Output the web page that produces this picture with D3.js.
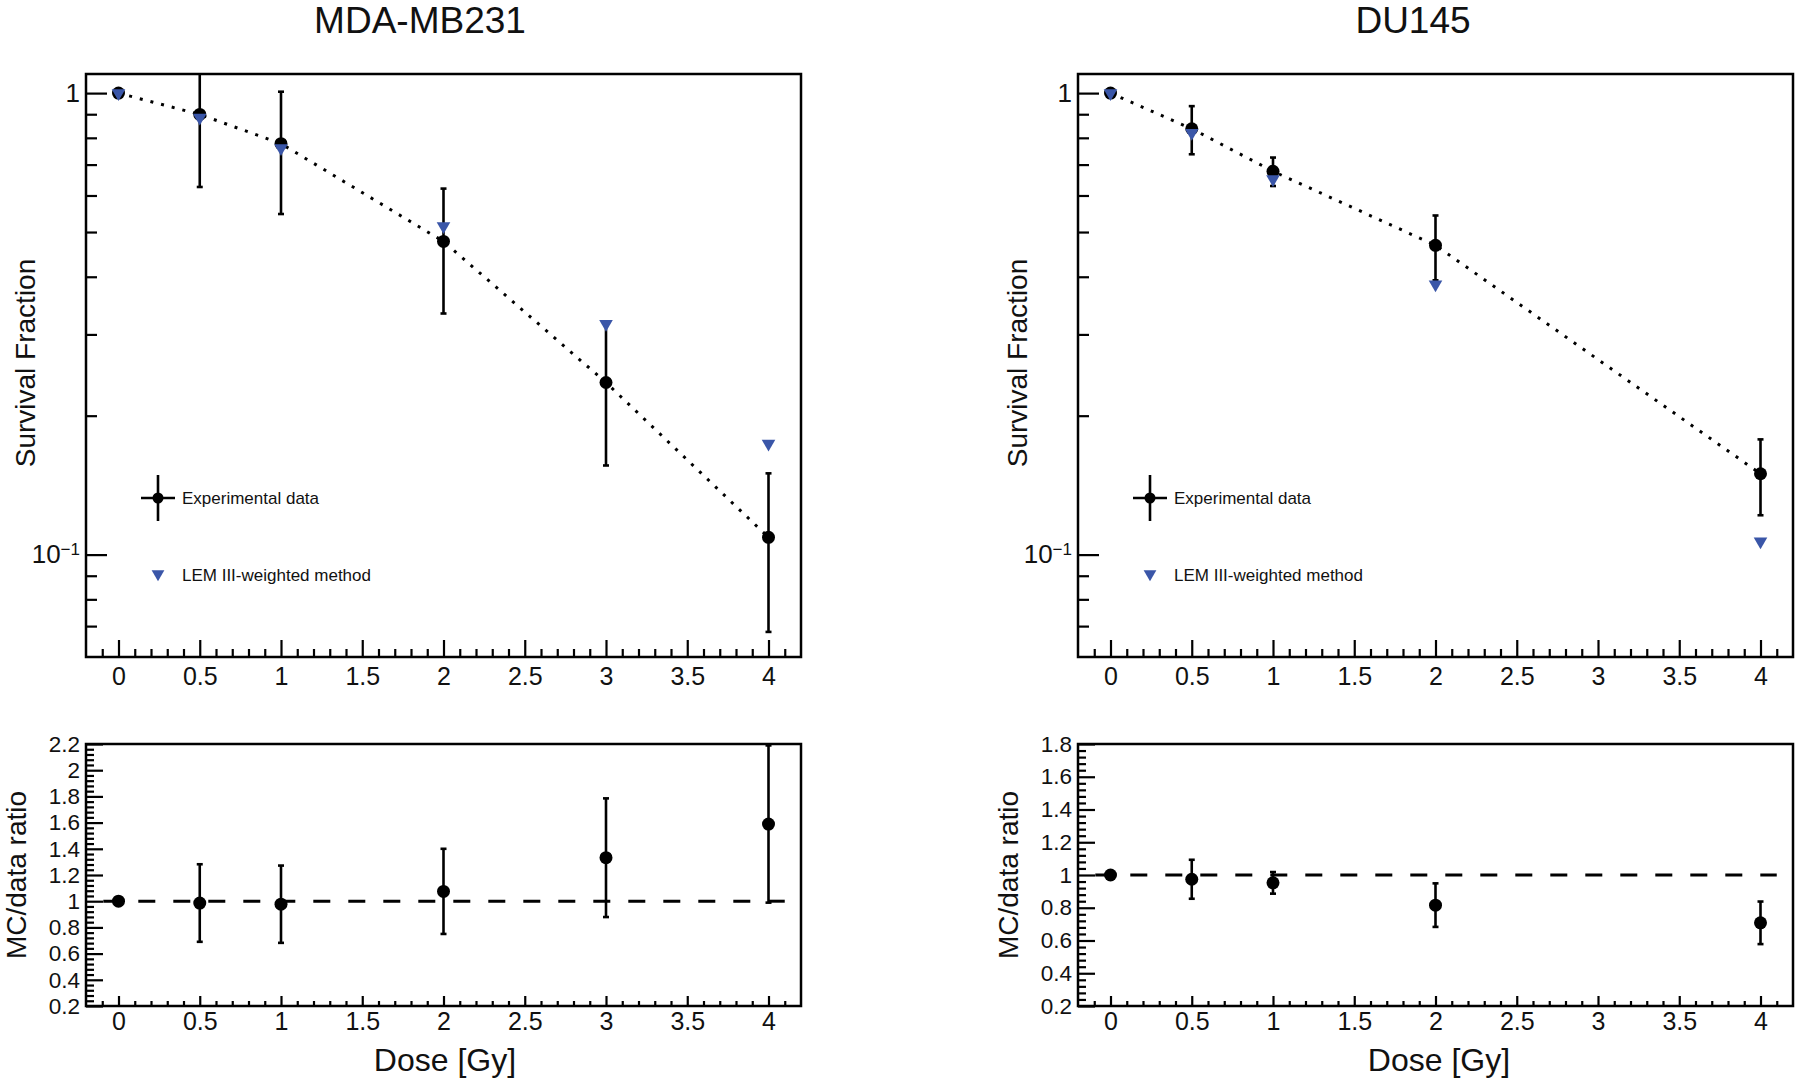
<!DOCTYPE html>
<html><head><meta charset="utf-8">
<script src="https://cdn.jsdelivr.net/npm/d3@7"></script>
<style>
body{margin:0;background:#fff}
svg{display:block}
text{font-family:"Liberation Sans",Arial,Helvetica,sans-serif;fill:#111}
</style>
</head><body>
<svg id="c" width="1800" height="1082"></svg>
<script>
// ---------------- data ----------------
const panelTitles = ["MDA-MB231", "DU145"];

const dosesMDA = [0, 0.5, 1, 2, 3, 4];
const sfMDA    = [1.0, 0.899, 0.777, 0.477, 0.236, 0.109];
const sfErrMDA = [0, 0.273, 0.23, 0.144, 0.08, 0.041];
const lemMDA   = [1.0, 0.885, 0.76, 0.515, 0.316, 0.174];
const ratioMDA    = [1.0, 0.986, 0.977, 1.075, 1.332, 1.589];
const ratioErrMDA = [0, 0.296, 0.295, 0.325, 0.453, 0.6];

const dosesDU = [0, 0.5, 1, 2, 4];
const sfDU    = [1.0, 0.837, 0.677, 0.468, 0.1497];
const sfErrDU = [0, 0.1, 0.048, 0.075, 0.028];
const lemDU   = [1.0, 0.82, 0.651, 0.385, 0.1068];
const ratioDU    = [1.0, 0.974, 0.952, 0.816, 0.708];
const ratioErrDU = [0, 0.119, 0.066, 0.133, 0.13];

const xTickValues = [0, 0.5, 1, 1.5, 2, 2.5, 3, 3.5, 4];
const xTickLabels = ["0", "0.5", "1", "1.5", "2", "2.5", "3", "3.5", "4"];
const sfTickValues = [0.1, 1];
const sfTickLabels = ["10", "1"];
const ratioTicksMDA = [0.2, 0.4, 0.6, 0.8, 1, 1.2, 1.4, 1.6, 1.8, 2, 2.2];
const ratioLabelsMDA = ["0.2", "0.4", "0.6", "0.8", "1", "1.2", "1.4", "1.6", "1.8", "2", "2.2"];
const ratioTicksDU = [0.2, 0.4, 0.6, 0.8, 1, 1.2, 1.4, 1.6, 1.8];
const ratioLabelsDU = ["0.2", "0.4", "0.6", "0.8", "1", "1.2", "1.4", "1.6", "1.8"];

const legendLabels = ["Experimental data", "LEM III-weighted method"];
const yTitleTop = "Survival Fraction";
const yTitleRatio = "MC/data ratio";
const xTitle = "Dose [Gy]";

// ---------------- layout ----------------
const xDomain = [-0.2, 4.2];
const sfDomain = [0.06, 1.1];
const TOP = {top: 74, bottom: 657};
const RAT = {top: 744, bottom: 1006};
const BLUE = "#3a56a8";
const svg = d3.select("#c");

const xMinor = d3.range(-1, 42).map(d => d / 10).filter(d => Math.abs(d * 2 - Math.round(d * 2)) > 1e-6);
const sfMinor = [0.07, 0.08, 0.09, 0.2, 0.3, 0.4, 0.5, 0.6, 0.7, 0.8, 0.9];

function styleAxis(sel) {
  sel.select(".domain").remove();
  sel.selectAll(".tick line").attr("stroke", "#000").attr("stroke-width", 2.2);
  sel.selectAll(".tick text").attr("fill", "#111").style("font-size", "25px")
     .style("font-family", '"Liberation Sans",Arial,sans-serif');
}
function noText(sel) { sel.selectAll("text").remove(); }

let clipN = 0;
function clip(l, r, t, b) {
  const id = "clip" + (clipN++);
  svg.append("clipPath").attr("id", id).append("rect")
    .attr("x", l).attr("y", t).attr("width", r - l).attr("height", b - t);
  return "url(#" + id + ")";
}

function errorBars(g, x, y, xs, vs, es, capW) {
  xs.forEach((d, i) => {
    if (!(es[i] > 0)) return;
    const lo = y(vs[i] - es[i]), hi = y(vs[i] + es[i]);
    g.append("line").attr("x1", x(d)).attr("x2", x(d)).attr("y1", lo).attr("y2", hi)
      .attr("stroke", "#000").attr("stroke-width", 2.6);
    [lo, hi].forEach(yy => g.append("line").attr("x1", x(d) - capW).attr("x2", x(d) + capW)
      .attr("y1", yy).attr("y2", yy).attr("stroke", "#000").attr("stroke-width", 2.6));
  });
}

function drawColumn(p, doses, sf, sfErr, lem, ratio, ratioErr, rTicks, rLabels, rDomain) {
  const x = d3.scaleLinear().domain(xDomain).range([p.left, p.right]);

  // title
  svg.append("text").attr("x", p.titleX).attr("y", 33).attr("text-anchor", "middle")
    .style("font-size", "37px").text(p.title);

  // ---------- top panel ----------
  const y = d3.scaleLog().domain(sfDomain).range([TOP.bottom, TOP.top]);
  const gT = svg.append("g");
  gT.append("g").attr("transform", `translate(0,${TOP.bottom})`)
    .call(d3.axisBottom(x).tickValues(xMinor).tickSize(-8).tickFormat("")).call(styleAxis).call(noText);
  gT.append("g").attr("transform", `translate(0,${TOP.bottom})`)
    .call(d3.axisBottom(x).tickValues(xTickValues).tickSize(-17).tickPadding(10)
      .tickFormat((d, i) => xTickLabels[i])).call(styleAxis);
  gT.append("g").attr("transform", `translate(${p.left},0)`)
    .call(d3.axisLeft(y).tickValues(sfMinor).tickSize(-11).tickFormat("")).call(styleAxis).call(noText);
  const yMaj = gT.append("g").attr("transform", `translate(${p.left},0)`)
    .call(d3.axisLeft(y).tickValues(sfTickValues).tickSize(-21).tickPadding(6)
      .tickFormat((d, i) => sfTickLabels[i])).call(styleAxis);
  yMaj.selectAll(".tick text").style("font-size", "26px").each(function(d) {
    if (d < 0.5) {
      d3.select(this).append("tspan").attr("dy", "-0.5em").style("font-size", "17px").text("\u22121");
    }
  });
  gT.append("rect").attr("x", p.left).attr("y", TOP.top).attr("width", p.right - p.left)
    .attr("height", TOP.bottom - TOP.top).attr("fill", "none").attr("stroke", "#000").attr("stroke-width", 2.5);

  svg.append("text").attr("transform", `translate(${p.left - 51},${363}) rotate(-90)`)
    .attr("text-anchor", "middle").style("font-size", "28px").text(yTitleTop);

  const dT = svg.append("g").attr("clip-path", clip(p.left, p.right, TOP.top, TOP.bottom));
  const pts = doses.map((d, i) => [d, sf[i]]);
  dT.append("path").attr("d", d3.line().x(d => x(d[0])).y(d => y(d[1]))(pts))
    .attr("fill", "none").attr("stroke", "#000").attr("stroke-width", 3).attr("stroke-dasharray", "3,8");
  errorBars(dT, x, y, doses, sf, sfErr, 3);
  dT.selectAll("circle.sf").data(pts).join("circle").attr("cx", d => x(d[0])).attr("cy", d => y(d[1]))
    .attr("r", 6.5).attr("fill", "#000");
  const tri = d3.symbol(d3.symbolTriangle, 80);
  dT.selectAll("path.lem").data(doses.map((d, i) => [d, lem[i]])).join("path").attr("class", "lem")
    .attr("d", tri).attr("transform", d => `translate(${x(d[0])},${y(d[1])}) rotate(180)`).attr("fill", BLUE);

  // legend
  const lx = p.left + 72;
  svg.append("line").attr("x1", lx - 17).attr("x2", lx + 17).attr("y1", 498).attr("y2", 498).attr("stroke", "#000").attr("stroke-width", 2.6);
  svg.append("line").attr("x1", lx).attr("x2", lx).attr("y1", 475).attr("y2", 521).attr("stroke", "#000").attr("stroke-width", 2.6);
  svg.append("circle").attr("cx", lx).attr("cy", 498).attr("r", 5.5).attr("fill", "#000");
  svg.append("text").attr("x", p.left + 96).attr("y", 504).style("font-size", "17px").text(legendLabels[0]);
  svg.append("path").attr("d", d3.symbol(d3.symbolTriangle, 70)).attr("transform", `translate(${lx},574) rotate(180)`).attr("fill", BLUE);
  svg.append("text").attr("x", p.left + 96).attr("y", 581).style("font-size", "17px").text(legendLabels[1]);

  // ---------- ratio panel ----------
  const yr = d3.scaleLinear().domain(rDomain).range([RAT.bottom, RAT.top]);
  const rMinor = d3.range(Math.round(rDomain[0] / 0.04), Math.round(rDomain[1] / 0.04) + 1)
    .map(k => k * 0.04).filter(v => Math.abs(v / 0.2 - Math.round(v / 0.2)) > 1e-6);
  const gR = svg.append("g");
  gR.append("g").attr("transform", `translate(0,${RAT.bottom})`)
    .call(d3.axisBottom(x).tickValues(xMinor).tickSize(-5).tickFormat("")).call(styleAxis).call(noText);
  gR.append("g").attr("transform", `translate(0,${RAT.bottom})`)
    .call(d3.axisBottom(x).tickValues(xTickValues).tickSize(-10).tickPadding(6)
      .tickFormat((d, i) => xTickLabels[i])).call(styleAxis);
  gR.append("g").attr("transform", `translate(${p.left},0)`)
    .call(d3.axisLeft(yr).tickValues(rMinor).tickSize(-8).tickFormat("")).call(styleAxis).call(noText);
  gR.append("g").attr("transform", `translate(${p.left},0)`)
    .call(d3.axisLeft(yr).tickValues(rTicks).tickSize(-17).tickPadding(6)
      .tickFormat((d, i) => rLabels[i])).call(styleAxis)
    .selectAll(".tick text").style("font-size", "22.5px");
  gR.append("rect").attr("x", p.left).attr("y", RAT.top).attr("width", p.right - p.left)
    .attr("height", RAT.bottom - RAT.top).attr("fill", "none").attr("stroke", "#000").attr("stroke-width", 2.5);

  svg.append("text").attr("transform", `translate(${p.left - 60},${875}) rotate(-90)`)
    .attr("text-anchor", "middle").style("font-size", "28px").text(yTitleRatio);
  svg.append("text").attr("x", p.xTitleX).attr("y", 1071).attr("text-anchor", "middle")
    .style("font-size", "32px").text(xTitle);

  const dR = svg.append("g").attr("clip-path", clip(p.left, p.right, RAT.top, RAT.bottom));
  dR.append("line").attr("x1", x(-0.2)).attr("x2", x(4.1)).attr("y1", yr(1)).attr("y2", yr(1))
    .attr("stroke", "#000").attr("stroke-width", 3).attr("stroke-dasharray", "17,18").attr("stroke-dashoffset", 17.7);
  errorBars(dR, x, yr, doses, ratio, ratioErr, 3);
  dR.selectAll("circle.r").data(doses.map((d, i) => [d, ratio[i]])).join("circle")
    .attr("cx", d => x(d[0])).attr("cy", d => yr(d[1])).attr("r", 6.5).attr("fill", "#000");
}

drawColumn({title: panelTitles[0], left: 86, right: 801, titleX: 420, xTitleX: 445},
  dosesMDA, sfMDA, sfErrMDA, lemMDA, ratioMDA, ratioErrMDA, ratioTicksMDA, ratioLabelsMDA, [0.2, 2.2]);
drawColumn({title: panelTitles[1], left: 1078, right: 1793, titleX: 1413, xTitleX: 1439},
  dosesDU, sfDU, sfErrDU, lemDU, ratioDU, ratioErrDU, ratioTicksDU, ratioLabelsDU, [0.2, 1.8]);
</script>
</body></html>
